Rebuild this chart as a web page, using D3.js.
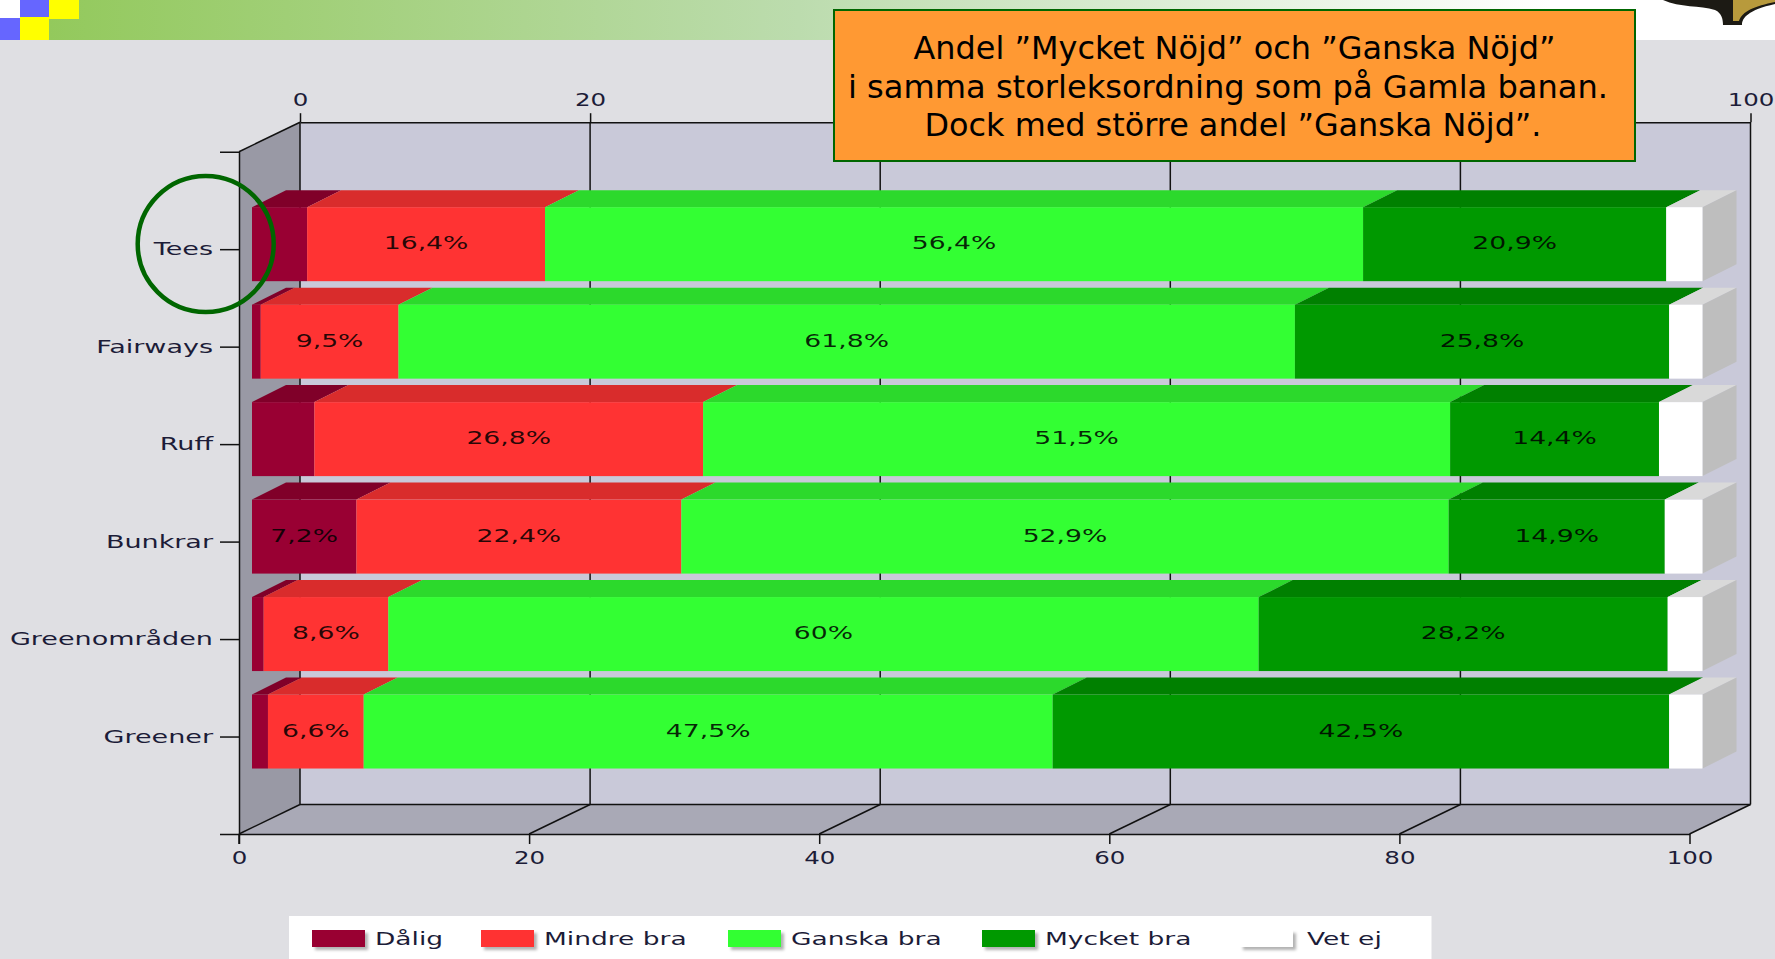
<!DOCTYPE html>
<html>
<head>
<meta charset="utf-8">
<script src="https://cdn.jsdelivr.net/npm/d3@7/dist/d3.min.js"></script>
<style>
html,body{margin:0;padding:0;background:#dfdfe3;overflow:hidden}
svg{display:block}
text{font-family:"DejaVu Sans",sans-serif}
</style>
</head>
<body>
<svg id="c" width="1775" height="959"></svg>
<script>
const categories = ["Tees","Fairways","Ruff","Bunkrar","Greenområden","Greener"];
const seriesNames = ["Dålig","Mindre bra","Ganska bra","Mycket bra","Vet ej"];
const dalig     = [3.8, 0.6, 4.3, 7.2, 0.8, 1.1];
const mindreBra = [16.4, 9.5, 26.8, 22.4, 8.6, 6.6];
const ganskaBra = [56.4, 61.8, 51.5, 52.9, 60, 47.5];
const mycketBra = [20.9, 25.8, 14.4, 14.9, 28.2, 42.5];
const vetEj     = [2.5, 2.3, 3.0, 2.6, 2.4, 2.3];
const xTicks = [0,20,40,60,80,100];
const xTicksTopVisible = [0,20,100];
const calloutLines = ["Andel ”Mycket Nöjd” och ”Ganska Nöjd”","i samma storleksordning som på Gamla banan.","Dock med större andel ”Ganska Nöjd”."];
const calloutWidths = [642,760,617];
const calloutCenters = [1234.5,1228,1233];
const frontColors = ["#990033","#ff3333","#33ff33","#009900","#ffffff"];
const topColors   = ["#800029","#d92c2c","#2cd92c","#008000","#d9d9d9"];
const legendSwatchX = [312,481,728,982,1240];

const svg = d3.select("#c");
const defs = svg.append("defs");
const grad = defs.append("linearGradient").attr("id","hdr");
grad.append("stop").attr("offset","0").attr("stop-color","#93c95c");
grad.append("stop").attr("offset","0.5").attr("stop-color","#bcdcae");
grad.append("stop").attr("offset","1").attr("stop-color","#ffffff");
const f = defs.append("filter").attr("id","sh").attr("x","-20%").attr("y","-30%").attr("width","150%").attr("height","170%");
f.append("feDropShadow").attr("dx",3).attr("dy",3).attr("stdDeviation",1.5).attr("flood-color","#000").attr("flood-opacity",0.3);

// stretched text helper (the reference is stretched horizontally)
function stretch(sel, k){
  sel.each(function(){
    const w = this.getComputedTextLength();
    d3.select(this).attr("textLength", w*k).attr("lengthAdjust","spacingAndGlyphs");
  });
}

// slide header
svg.append("rect").attr("width",1775).attr("height",40).attr("fill","#fff");
svg.append("rect").attr("x",49).attr("width",1500).attr("height",40).attr("fill","url(#hdr)");
svg.append("rect").attr("y",41).attr("width",1775).attr("height",918).attr("fill","#dfdfe3");
[[0,0,20,18,"#fff"],[20,0,29,17,"#6666ff"],[49,0,30,19,"#ffff00"],[0,18,20,22,"#6666ff"],[20,17,29,23,"#ffff00"]]
  .forEach(d=>svg.append("rect").attr("x",d[0]).attr("y",d[1]).attr("width",d[2]).attr("height",d[3]).attr("fill",d[4]));
svg.append("path").attr("d","M1663,0C1680,8 1700,5 1715,10C1722,13 1723,20 1723,25L1742,25C1742,18 1748,10 1775,4L1775,0Z").attr("fill","#1c1a14");
svg.append("path").attr("d","M1733,0L1733,21L1739,21C1742,11 1755,6 1775,2L1775,0Z").attr("fill","#b89a3c");

// scales
const depthX = 61, depthY = 29.5;
const x = d3.scaleLinear().domain([0,100]).range([239,1689.5]);
const xBack = d3.scaleLinear().domain([0,100]).range([239+depthX,1689.5+depthX]);
const xBar = d3.scaleLinear().domain([0,100]).range([252,1702.5]);
const y = d3.scalePoint().domain(categories).range([151.7,834]).padding(1);
const barH = 74, barDX = 34, barDY = 17, barShift = -5;
const top0 = 151.7-depthY, bot = 834, botBack = 834-depthY;
const poly = p => p.map(q=>q.join(",")).join(" ");

// walls
svg.append("polygon").attr("points",poly([[x(0)+depthX,top0+0.3],[xBack(100),top0+0.3],[xBack(100),botBack],[x(0)+depthX,botBack]])).attr("fill","#c9c9d9");
svg.append("polygon").attr("points",poly([[x(0),151.7],[xBack(0),top0],[xBack(0),botBack],[x(0),bot]])).attr("fill","#9999a5");
svg.append("polygon").attr("points",poly([[x(0),bot],[xBack(0),botBack],[xBack(100),botBack],[x(100),bot]])).attr("fill","#a9a9b6");
const grid = svg.append("g").attr("stroke","#111").attr("stroke-width",1.5).attr("fill","none");
grid.selectAll("line.v").data(xTicks).join("line").attr("x1",d=>xBack(d)).attr("x2",d=>xBack(d)).attr("y1",top0).attr("y2",botBack);
grid.selectAll("line.d").data(xTicks).join("line").attr("class","d").attr("x1",d=>x(d)).attr("x2",d=>xBack(d)).attr("y1",bot).attr("y2",botBack);
grid.append("line").attr("x1",xBack(0)).attr("x2",xBack(100)).attr("y1",botBack).attr("y2",botBack);
grid.append("line").attr("x1",x(0)).attr("x2",xBack(0)).attr("y1",151.7).attr("y2",top0);

// stacked bars
const table = categories.map((c,i)=>({cat:c,"Dålig":dalig[i],"Mindre bra":mindreBra[i],"Ganska bra":ganskaBra[i],"Mycket bra":mycketBra[i],"Vet ej":vetEj[i]}));
const stacked = d3.stack().keys(seriesNames)(table);
const barsG = svg.append("g");
categories.forEach((c,ci)=>{
  const yT = y(c)+barShift-barH/2;
  const g = barsG.append("g");
  stacked.forEach((s,si)=>{
    const [a,b] = s[ci], x0 = xBar(a), x1 = xBar(b);
    g.append("polygon").attr("points",poly([[x0,yT],[x1,yT],[x1+barDX,yT-barDY],[x0+barDX,yT-barDY]])).attr("fill",topColors[si]);
  });
  const xEnd = xBar(stacked[4][ci][1]);
  g.append("polygon").attr("points",poly([[xEnd,yT],[xEnd+barDX,yT-barDY],[xEnd+barDX,yT+barH-barDY],[xEnd,yT+barH]])).attr("fill","#bebebe");
  stacked.forEach((s,si)=>{
    const [a,b] = s[ci];
    g.append("rect").attr("x",xBar(a)).attr("y",yT).attr("width",xBar(b)-xBar(a)).attr("height",barH).attr("fill",frontColors[si]);
    const v = b-a;
    if (si<4 && v>=5){
      g.append("text").attr("x",(xBar(a)+xBar(b))/2).attr("y",yT+barH/2-1.5).attr("dy","0.36em")
        .attr("text-anchor","middle").attr("font-size",18).attr("fill","#000").attr("fill-opacity",0.85)
        .text(String(table[ci][seriesNames[si]]).replace(".",",")+"%").call(stretch,1.48);
    }
  });
});

// axes
function styleAxis(g,k){
  g.selectAll("path,line").attr("stroke","#111").attr("stroke-width",1.5);
  g.selectAll("text").attr("font-family","DejaVu Sans").attr("font-size",18).attr("fill","#1c1c38").call(stretch,k);
  g.attr("font-family",null).attr("font-size",null);
}
svg.append("g").attr("transform",`translate(0,${bot})`)
  .call(d3.axisBottom(x).tickValues(xTicks).tickSize(10).tickSizeOuter(0).tickPadding(7).tickFormat(d3.format("d")))
  .call(styleAxis,1.36);
svg.append("g").attr("transform",`translate(0,${top0})`)
  .call(d3.axisTop(xBack).tickValues(xTicksTopVisible).tickSize(9).tickSizeOuter(0).tickPadding(7).tickFormat(d3.format("d")))
  .call(styleAxis,1.36);
svg.append("g").attr("transform",`translate(${x(0)},0)`)
  .call(d3.axisLeft(y).tickSize(19).tickPadding(7))
  .call(styleAxis,1.5);
svg.append("line").attr("x1",x(0)).attr("x2",x(0)).attr("y1",bot).attr("y2",bot+10).attr("stroke","#111").attr("stroke-width",1.5);

// legend
svg.append("rect").attr("x",289).attr("y",916).attr("width",1142.5).attr("height",43).attr("fill","#fff");
const leg = svg.append("g").selectAll("g").data(seriesNames).join("g").attr("transform",(d,i)=>`translate(${legendSwatchX[i]},930)`);
leg.append("rect").attr("width",53).attr("height",17).attr("fill",(d,i)=>frontColors[i]).attr("filter","url(#sh)");
leg.append("text").attr("x",(d,i)=>i===4?67:63).attr("y",15).attr("font-size",18).attr("fill","#1c1c38").text(d=>d).call(stretch,1.47);

// annotation circle
svg.append("ellipse").attr("cx",205.7).attr("cy",244).attr("rx",68).attr("ry",68).attr("fill","none").attr("stroke","#006600").attr("stroke-width",4.5);

// callout
svg.append("rect").attr("x",834).attr("y",10).attr("width",801).attr("height",151).attr("fill","#ff9933").attr("stroke","#006600").attr("stroke-width",2);
svg.append("g").selectAll("text").data(calloutLines).join("text")
  .attr("x",(d,i)=>calloutCenters[i]).attr("y",(d,i)=>59+i*38.5).attr("text-anchor","middle").attr("font-size",32).attr("fill","#000")
  .text(d=>d)
  .attr("textLength",(d,i)=>calloutWidths[i]).attr("lengthAdjust","spacingAndGlyphs");
</script>
</body>
</html>
